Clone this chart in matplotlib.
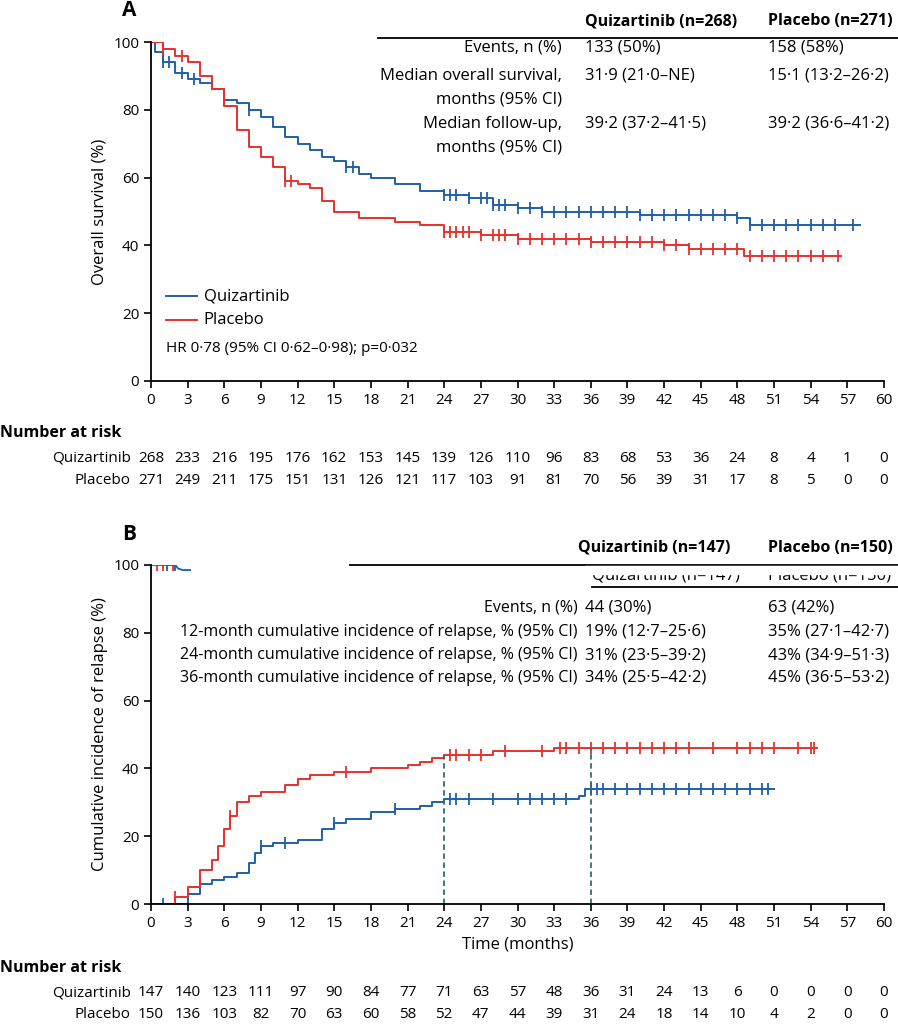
import matplotlib
matplotlib.use("Agg")
import matplotlib.pyplot as plt
import numpy as np

plt.rcParams['font.family'] = ['Open Sans', 'DejaVu Sans']
plt.rcParams['font.size'] = 11

BLUE = '#1f5fa8'
RED = '#e6312d'
TEAL = '#2f6f6a'

# Panel A: overall survival (step curves)
os_quiz_t = [0, 0.3, 1, 2, 3, 4, 5, 6, 7, 8, 9, 10, 11, 12, 13, 14, 15, 16, 17, 18, 20, 22, 24, 26, 28, 30, 32, 36, 40, 44, 48, 49, 58]
os_quiz_s = [100, 97, 94, 91, 89, 88, 86, 83, 82, 80, 78, 75, 72, 70, 68, 66, 65, 63, 61, 60, 58, 56, 55, 54, 52, 51, 50, 50, 49, 49, 48, 46, 46]
os_plac_t = [0, 1, 2, 3, 4, 5, 6, 7, 8, 9, 10, 11, 12, 13, 14, 15, 17, 20, 22, 24, 27, 30, 36, 42, 44, 48.5, 56.5]
os_plac_s = [100, 98, 96, 94, 90, 86, 81, 74, 69, 66, 63, 59, 58, 57, 53, 50, 48, 47, 46, 44, 43, 42, 41, 40, 39, 37, 37]
os_quiz_cens = [1, 1.5, 2.5, 3.5, 8, 16, 16.5, 24, 24.5, 25, 26, 27, 27.5, 28, 28.5, 29, 30, 31, 32, 33, 34, 35, 36, 37, 38, 39, 40, 41, 42, 43, 44, 45, 46, 47, 48, 49, 50, 51, 52, 53, 54, 55, 56, 57.5]
os_plac_cens = [1, 2.5, 11, 11.5, 24, 24.5, 25, 25.5, 26, 27, 28, 28.5, 29, 30, 31, 32, 33, 34, 35, 36, 37, 38, 39, 40, 41, 42, 43, 44, 45, 46, 47, 48, 49, 50, 51, 52, 53, 54, 55, 56.2]

# Panel B: cumulative incidence of relapse
cir_quiz_t = [0, 2.5, 3, 4, 5, 6, 7, 8, 8.5, 9, 10, 12, 14, 15, 16, 18, 20, 22, 23, 24, 35, 35.5, 51]
cir_quiz_s = [0, 0, 3, 6, 7, 8, 9, 12, 15, 17, 18, 19, 22, 24, 25, 27, 28, 29, 30, 31, 32, 34, 34]
cir_plac_t = [0, 1.8, 2, 3, 4, 5, 5.5, 6, 6.5, 7, 8, 9, 11, 12, 13, 15, 18, 21, 22, 23, 24, 28, 33, 54.5]
cir_plac_s = [0, 0, 2, 5, 10, 13, 17, 22, 26, 30, 32, 33, 35, 37, 38, 39, 40, 41, 42, 43, 44, 45, 46, 46]
cir_quiz_cens = [1, 4, 9, 11, 15, 20, 24.5, 25, 26, 28, 30, 31, 32, 33, 34, 36, 36.5, 37, 38, 39, 40, 41, 42, 43, 44, 45, 46, 47, 48, 49, 50, 50.5]
cir_plac_cens = [2, 6.5, 16, 24.5, 25, 26, 27, 29, 32, 33.5, 34, 35, 36, 37, 38, 39, 40, 41, 42, 43, 44, 46, 48, 49, 50, 51, 53, 54, 54.3]

months = list(range(0, 61, 3))
risk_os_quiz = [268, 233, 216, 195, 176, 162, 153, 145, 139, 126, 110, 96, 83, 68, 53, 36, 24, 8, 4, 1, 0]
risk_os_plac = [271, 249, 211, 175, 151, 131, 126, 121, 117, 103, 91, 81, 70, 56, 39, 31, 17, 8, 5, 0, 0]
risk_cir_quiz = [147, 140, 123, 111, 97, 90, 84, 77, 71, 63, 57, 48, 36, 31, 24, 13, 6, 0, 0, 0, 0]
risk_cir_plac = [150, 136, 103, 82, 70, 63, 60, 58, 52, 47, 44, 39, 31, 24, 18, 14, 10, 4, 2, 0, 0]

tab_a_labels = [['Events, n (%)'], ['Median overall survival,', 'months (95% CI)'], ['Median follow-up,', 'months (95% CI)']]
tab_a_quiz = ['133 (50%)', '31·9 (21·0–NE)', '39·2 (37·2–41·5)']
tab_a_plac = ['158 (58%)', '15·1 (13·2–26·2)', '39·2 (36·6–41·2)']
tab_b_labels = ['Events, n (%)',
                '12-month cumulative incidence of relapse, % (95% CI)',
                '24-month cumulative incidence of relapse, % (95% CI)',
                '36-month cumulative incidence of relapse, % (95% CI)']
tab_b_quiz = ['44 (30%)', '19% (12·7–25·6)', '31% (23·5–39·2)', '34% (25·5–42·2)']
tab_b_plac = ['63 (42%)', '35% (27·1–42·7)', '43% (34·9–51·3)', '45% (36·5–53·2)']

W, H = 898, 1027
fig = plt.figure(figsize=(W / 100, H / 100), dpi=100)


def fx(px):
    return px / W


def fy(py):
    return 1 - py / H


def step_value(t, s, x):
    i = np.searchsorted(t, x, side='right') - 1
    return s[max(i, 0)]


def style_axes(ax, ylabel):
    for sp in ['top', 'right']:
        ax.spines[sp].set_visible(False)
    ax.spines['left'].set_linewidth(1.3)
    ax.spines['bottom'].set_linewidth(1.3)
    ax.set_xlim(0, 60)
    ax.set_ylim(0, 100)
    ax.set_xticks(months)
    ax.set_yticks(range(0, 101, 20))
    ax.tick_params(direction='out', length=5, width=1.2, labelsize=11)
    ax.set_ylabel(ylabel, fontsize=12)


def draw_curve(ax, t, s, cens, color):
    ax.step(t, s, where='post', color=color, lw=1.4)
    cy = [step_value(t, s, c) for c in cens]
    ax.plot(cens, cy, ls='none', marker='|', ms=9, mew=1.3, color=color)


axA = fig.add_axes([fx(151), fy(381), fx(884 - 151), (381 - 42) / H])
draw_curve(axA, os_quiz_t, os_quiz_s, os_quiz_cens, BLUE)
draw_curve(axA, os_plac_t, os_plac_s, os_plac_cens, RED)
style_axes(axA, 'Overall survival (%)')
axA.plot([1.2, 3.8], [25, 25], color=BLUE, lw=1.4)
axA.plot([1.2, 3.8], [18, 18], color=RED, lw=1.4)
axA.text(4.3, 25, 'Quizartinib', va='center', fontsize=12)
axA.text(4.3, 18, 'Placebo', va='center', fontsize=12)
axA.text(1.2, 9.5, 'HR 0·78 (95% CI 0·62–0·98); p=0·032', va='center', fontsize=11)

axB = fig.add_axes([fx(151), fy(904), fx(884 - 151), (904 - 565) / H])
draw_curve(axB, cir_quiz_t, cir_quiz_s, cir_quiz_cens, BLUE)
draw_curve(axB, cir_plac_t, cir_plac_s, cir_plac_cens, RED)
# marks near 100 at the start
axB.plot([0.5, 1.0, 1.8], [100, 100, 100], ls='none', marker='|', ms=9, mew=1.3, color=RED)
axB.plot([0, 2, 2.2, 2.6, 3.2], [100, 100, 99, 98.5, 98.5], color=BLUE, lw=1.3)
axB.plot([1.3, 2.0], [100, 100], ls='none', marker='|', ms=9, mew=1.3, color=BLUE)
style_axes(axB, 'Cumulative incidence of relapse (%)')
axB.set_xlabel('Time (months)', fontsize=12, labelpad=4)
for m in [24, 36]:
    axB.plot([m, m], [0, step_value(cir_plac_t, cir_plac_s, m)], ls=(0, (3, 2)), color=TEAL, lw=1.3)

fig.text(fx(122), fy(10), 'A', fontsize=15, fontweight='bold', va='center')
fig.text(fx(122), fy(535), 'B', fontsize=15, fontweight='bold', va='center')


def risk_table(ax, y0, quiz, plac):
    fig.text(0, fy(y0), 'Number at risk', fontsize=11.5, fontweight='bold', va='center')
    for y, lab, vals in [(y0 + 25, 'Quizartinib', quiz), (y0 + 47, 'Placebo', plac)]:
        fig.text(fx(131), fy(y), lab, ha='right', va='center', fontsize=11)
        for m, v in zip(months, vals):
            xp = ax.transData.transform((m, 0))[0] / W
            fig.text(xp, fy(y), str(v), ha='center', va='center', fontsize=11)


risk_table(axA, 433, risk_os_quiz, risk_os_plac)
risk_table(axB, 968, risk_cir_quiz, risk_cir_plac)

# table A
fig.text(fx(585), fy(21), 'Quizartinib (n=268)', fontsize=11.5, fontweight='bold', va='center')
fig.text(fx(768), fy(21), 'Placebo (n=271)', fontsize=11.5, fontweight='bold', va='center')
fig.add_artist(plt.Line2D([fx(378), 1], [fy(38), fy(38)], color='black', lw=1.3))
for y, lines, q, p in zip([47, 76, 124], tab_a_labels, tab_a_quiz, tab_a_plac):
    for k, line in enumerate(lines):
        fig.text(fx(562), fy(y + 23 * k), line, ha='right', va='center', fontsize=12)
    fig.text(fx(585), fy(y), q, va='center', fontsize=12)
    fig.text(fx(768), fy(y), p, va='center', fontsize=12)

# table B
fig.text(fx(578), fy(548), 'Quizartinib (n=147)', fontsize=11.5, fontweight='bold', va='center')
fig.text(fx(768), fy(548), 'Placebo (n=150)', fontsize=11.5, fontweight='bold', va='center')
fig.add_artist(plt.Line2D([fx(350), 1], [fy(565), fy(565)], color='black', lw=1.3))
fig.text(fx(592), fy(576), 'Quizartinib (n=147)', fontsize=12, va='center')
fig.text(fx(768), fy(576), 'Placebo (n=150)', fontsize=12, va='center')
fig.add_artist(plt.Rectangle((fx(585), fy(574)), 0.4, 8 / H, color='white', zorder=5))
fig.add_artist(plt.Line2D([fx(592), 1], [fy(587), fy(587)], color='black', lw=1.3))
for y, lab, q, p in zip([607, 632, 655, 678], tab_b_labels, tab_b_quiz, tab_b_plac):
    fig.text(fx(578), fy(y), lab, ha='right', va='center', fontsize=11.5)
    fig.text(fx(585), fy(y), q, va='center', fontsize=12)
    fig.text(fx(768), fy(y), p, va='center', fontsize=12)

fig.savefig('out.png', dpi=100)
